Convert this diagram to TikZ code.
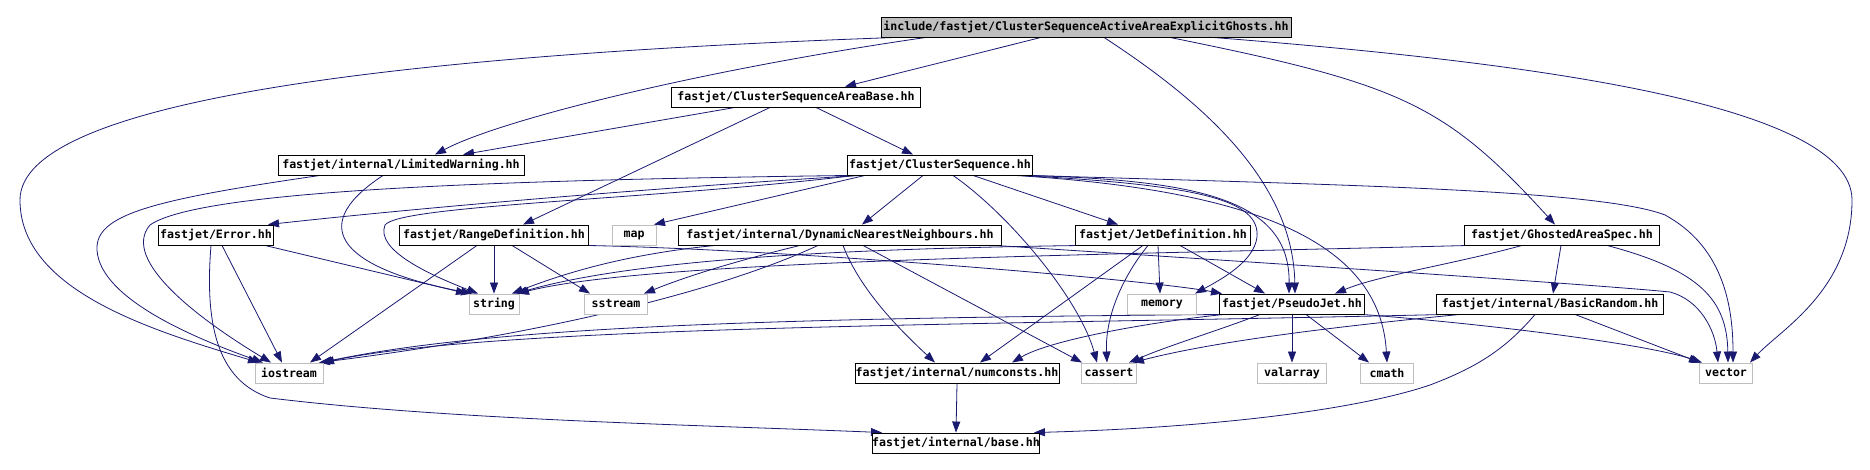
\documentclass[tikz,border=0pt]{standalone}
\usepackage{fontspec}
\setmonofont{DejaVu Sans Mono}
\usepackage{xcolor}
\usepackage{tikz}
\usetikzlibrary{arrows.meta, backgrounds}
\definecolor{edgeblue}{HTML}{191970}
\definecolor{sysgray}{HTML}{BFBFBF}

\begin{document}
\begin{tikzpicture}[x=1pt, y=-1pt,
    hdr/.style={draw=black, fill=white, line width=0.9pt, rectangle,
                minimum height=20pt, inner sep=0pt,
                font=\ttfamily\bfseries\fontsize{11.6}{12}\selectfont},
    sys/.style={hdr, draw=sysgray},
    inc/.style={-{Triangle[length=11pt, width=8pt]}, draw=edgeblue,
                line width=0.8pt}
  ]
  \useasboundingbox (0,0) rectangle (1870,470);
  % Project headers
  \foreach \n/\x/\y/\w/\t in {
      root/1086/27/410/{include/fastjet/ClusterSequenceActiveAreaExplicitGhosts.hh},
      csab/796/97/249/{fastjet/ClusterSequenceAreaBase.hh},
      lw/401/165/246/{fastjet/internal/LimitedWarning.hh},
      cs/940/165/185/{fastjet/ClusterSequence.hh},
      error/216/235/115/{fastjet/Error.hh},
      range/494/235/189/{fastjet/RangeDefinition.hh},
      dnn/840/235/323/{fastjet/internal/DynamicNearestNeighbours.hh},
      jetdef/1163/235/175/{fastjet/JetDefinition.hh},
      gas/1562/235/195/{fastjet/GhostedAreaSpec.hh},
      pj/1292/304/145/{fastjet/PseudoJet.hh},
      basicrandom/1550/304/227/{fastjet/internal/BasicRandom.hh},
      numconsts/957/373/204/{fastjet/internal/numconsts.hh},
      base/956/443/162/{fastjet/internal/base.hh}} {
    \node[hdr, minimum width=\w] (\n) at (\x,\y) {\t};
  }
  \node[hdr, fill=sysgray, minimum width=410] at (root) {include/fastjet/ClusterSequenceActiveAreaExplicitGhosts.hh};
  % System headers
  \foreach \n/\x/\y/\w in {map/634/235/44, string/494/304/50, sstream/616/304/63,
                           memory/1162/304/69, iostream/289/373/68,
                           cassert/1109/373/55, valarray/1292/373/69,
                           cmath/1387/373/53, vector/1726/373/53} {
    \node[sys, minimum width=\w] (\n) at (\x,\y) {\n};
  }
  \begin{scope}[on background layer]
  % Straight includes
  \foreach \a/\da/\b/\db in {root/-45/csab/49, csab/-61/lw/62, csab/-26/range/29,
                             csab/20/cs/-27, cs/-75/map/20, cs/-17/dnn/22,
                             cs/33/jetdef/-45, error/6/iostream/-7,
                             error/49/string/-27, range/0/string/0,
                             range/18/sstream/-26, range/-17/iostream/21,
                             dnn/23/cassert/-27, jetdef/-5/memory/-2,
                             jetdef/-20/numconsts/23, jetdef/17/pj/-27,
                             pj/0/valarray/0, pj/14/cmath/-18,
                             gas/-1/basicrandom/3, basicrandom/25/vector/-26,
                             numconsts/0/base/0} {
    \draw[inc] ([xshift=\da]\a.south) -- ([xshift=\db]\b.north);
  }
  % Root
  \draw[inc] ([xshift=-190]root.south) .. controls (400,55) and (20,100) .. (20,200)
             .. controls (20,290) and (150,330) .. ([xshift=-30]iostream.north);
  \draw[inc] ([xshift=-160]root.south) .. controls (700,70) and (500,120) .. ([xshift=34]lw.north);
  \draw[inc] ([xshift=18]root.south) .. controls (1200,100) and (1293,180) .. ([xshift=3]pj.north);
  \draw[inc] ([xshift=84]root.south) .. controls (1400,84) and (1444,103) .. ([xshift=-7]gas.north);
  \draw[inc] ([xshift=127]root.south) .. controls (1500,60) and (1852,100) .. (1852,200)
             .. controls (1852,290) and (1780,330) .. ([xshift=24]vector.north);
  % LimitedWarning
  \draw[inc] ([xshift=-81]lw.south) .. controls (150,200) and (95,215) .. (97,250)
             .. controls (100,300) and (200,340) .. ([xshift=-26]iostream.north);
  \draw[inc] ([xshift=-18]lw.south) .. controls (300,230) and (350,270) .. ([xshift=-22]string.north);
  % ClusterSequence
  \draw[inc] ([xshift=-80]cs.south) .. controls (620,190) and (400,210) .. ([xshift=52]error.north);
  \draw[inc] ([xshift=-90]cs.south) .. controls (500,180) and (200,190) .. (150,225)
             .. controls (120,260) and (200,320) .. ([xshift=-18]iostream.north);
  \draw[inc] ([xshift=-85]cs.south) .. controls (650,200) and (400,205) .. (385,225)
             .. controls (375,250) and (430,275) .. ([xshift=-16]string.north);
  \draw[inc] ([xshift=13]cs.south) .. controls (1010,215) and (1080,300) .. ([xshift=-12]cassert.north);
  \draw[inc] ([xshift=85]cs.south) .. controls (1200,180) and (1290,200) .. ([xshift=-3]pj.north);
  \draw[inc] ([xshift=80]cs.south) .. controls (1200,185) and (1260,200) .. (1257,237)
             .. controls (1254,262) and (1220,280) .. ([xshift=33]memory.north);
  \draw[inc] ([xshift=75]cs.south) .. controls (1250,190) and (1380,240) .. (cmath.north);
  \draw[inc] ([xshift=90]cs.south) .. controls (1350,185) and (1600,190) .. (1665,215)
             .. controls (1720,245) and (1733,300) .. ([xshift=7]vector.north);
  % Error
  \draw[inc] ([xshift=-5]error.south) .. controls (205,320) and (215,380) .. (270,398)
             .. controls (450,420) and (700,425) .. ([xshift=-74]base.north);
  % RangeDefinition
  \draw[inc] ([xshift=93]range.south) .. controls (800,250) and (1150,280) .. ([xshift=-70]pj.north);
  % DynamicNearestNeighbours
  \draw[inc] ([xshift=-125]dnn.south) .. controls (620,255) and (560,275) .. ([xshift=18]string.north);
  \draw[inc] ([xshift=-40]dnn.south) .. controls (740,260) and (690,275) .. ([xshift=28]sstream.north);
  \draw[inc] ([xshift=-22]dnn.south) .. controls (700,300) and (500,340) .. ([xshift=30]iostream.north);
  \draw[inc] ([xshift=3]dnn.south) .. controls (860,290) and (900,330) .. ([xshift=-22]numconsts.north);
  \draw[inc] ([xshift=155]dnn.south) .. controls (1300,265) and (1600,285) .. (1670,292)
             .. controls (1700,300) and (1715,330) .. ([xshift=-8]vector.north);
  % JetDefinition
  \draw[inc] ([xshift=-80]jetdef.south) .. controls (900,248) and (650,255) .. ([xshift=22]string.north);
  \draw[inc] ([xshift=-15]jetdef.south) .. controls (1120,280) and (1105,320) .. ([xshift=-2]cassert.north);
  % PseudoJet
  \draw[inc] ([xshift=-65]pj.south) .. controls (800,318) and (500,325) .. ([xshift=32]iostream.north);
  \draw[inc] ([xshift=-32]pj.south) .. controls (1220,330) and (1170,345) .. ([xshift=20]cassert.north);
  \draw[inc] ([xshift=-68]pj.south) .. controls (1150,322) and (1050,340) .. ([xshift=55]numconsts.north);
  \draw[inc] ([xshift=70]pj.south) .. controls (1500,325) and (1650,345) .. ([xshift=-24]vector.north);
  % GhostedAreaSpec
  \draw[inc] ([xshift=-93]gas.south) .. controls (1100,255) and (650,260) .. ([xshift=24]string.north);
  \draw[inc] ([xshift=-40]gas.south) .. controls (1450,265) and (1380,275) .. ([xshift=43]pj.north);
  \draw[inc] ([xshift=45]gas.south) .. controls (1700,270) and (1727,300) .. ([xshift=2]vector.north);
  % BasicRandom
  \draw[inc] ([xshift=-105]basicrandom.south) .. controls (1000,325) and (500,325) .. ([xshift=34]iostream.north);
  \draw[inc] ([xshift=-90]basicrandom.south) .. controls (1300,330) and (1200,345) .. ([xshift=24]cassert.north);
  \draw[inc] ([xshift=-15]basicrandom.south) .. controls (1505,350) and (1475,368) .. (1430,385)
             .. controls (1350,412) and (1200,428) .. ([xshift=78]base.north);
  \end{scope}
\end{tikzpicture}
\end{document}
